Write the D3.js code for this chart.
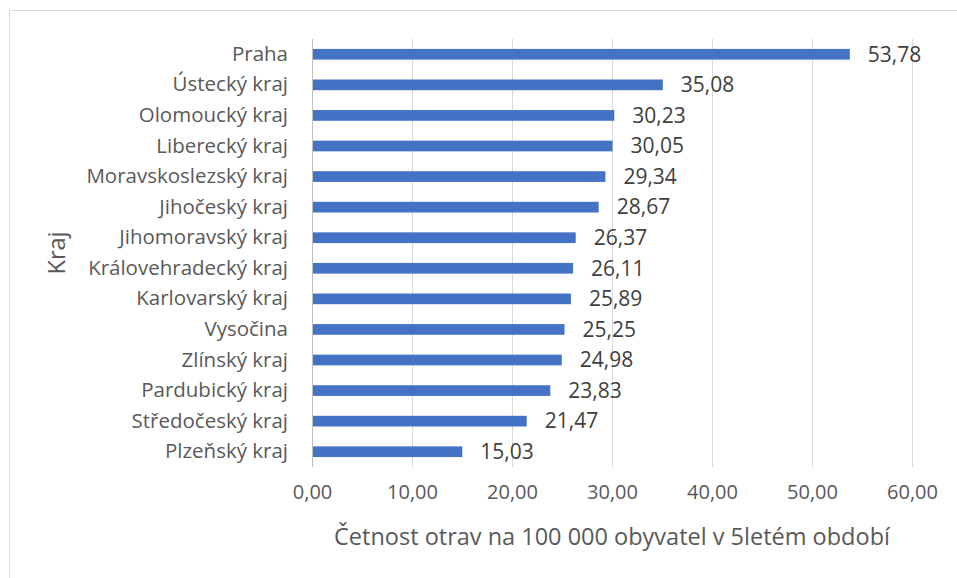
<!DOCTYPE html>
<html>
<head>
<meta charset="utf-8">
<script src="https://cdn.jsdelivr.net/npm/d3@7"></script>
<style>
  body { margin: 0; background: #fff; }
  svg { display: block; font-family: "Open Sans", sans-serif; }
</style>
</head>
<body>
<svg id="chart" width="957" height="578"></svg>
<script>
var regions = ["Praha", "Ústecký kraj", "Olomoucký kraj", "Liberecký kraj", "Moravskoslezský kraj",
  "Jihočeský kraj", "Jihomoravský kraj", "Královehradecký kraj", "Karlovarský kraj", "Vysočina",
  "Zlínský kraj", "Pardubický kraj", "Středočeský kraj", "Plzeňský kraj"];
var values = [53.78, 35.08, 30.23, 30.05, 29.34, 28.67, 26.37, 26.11, 25.89, 25.25, 24.98, 23.83, 21.47, 15.03];
var xTicks = [0, 10, 20, 30, 40, 50, 60];

var xTitle = "Četnost otrav na 100 000 obyvatel v 5letém období";
var yTitle = "Kraj";

var svg = d3.select("#chart");
var plotLeft = 312, plotRight = 912, plotTop = 39, plotBottom = 467;
var fontFam = "'Open Sans', sans-serif";

var comma = function(v, n){ return v.toFixed(n).replace(".", ","); };

// outer frame (only top and left visible in the original)
svg.append("path")
  .attr("d", "M9.5,578 V10.5 H957")
  .attr("fill", "none")
  .attr("stroke", "#d9d9d9")
  .attr("stroke-width", 1);

var xScale = d3.scaleLinear().domain([0, 60]).range([plotLeft, plotRight]);
var yScale = d3.scaleBand().domain(regions).range([plotTop, plotBottom]).paddingInner(0.65).paddingOuter(0.325);

// gridlines
svg.append("g")
  .selectAll("line")
  .data(xTicks.slice(1))
  .enter().append("line")
  .attr("x1", function(d){ return xScale(d) + 0.5; })
  .attr("x2", function(d){ return xScale(d) + 0.5; })
  .attr("y1", plotTop)
  .attr("y2", plotBottom)
  .attr("stroke", "#d9d9d9")
  .attr("stroke-width", 1);

// bars
svg.append("g")
  .selectAll("rect")
  .data(values)
  .enter().append("rect")
  .attr("x", xScale(0))
  .attr("y", function(d, i){ return yScale(regions[i]); })
  .attr("width", function(d){ return xScale(d) - xScale(0); })
  .attr("height", yScale.bandwidth())
  .attr("fill", "#4472c4");

// y axis line
svg.append("line")
  .attr("x1", plotLeft + 0.5).attr("x2", plotLeft + 0.5)
  .attr("y1", plotTop).attr("y2", plotBottom)
  .attr("stroke", "#bfbfbf");

// value labels
svg.append("g")
  .selectAll("text")
  .data(values)
  .enter().append("text")
  .attr("x", function(d){ return xScale(d) + 18; })
  .attr("y", function(d, i){ return yScale(regions[i]) + yScale.bandwidth()/2; })
  .attr("dy", "0.35em")
  .attr("font-size", 21)
  .attr("fill", "#404040")
  .text(function(d){ return comma(d, 2); });

// category labels
var yAxis = d3.axisLeft(yScale).tickSize(0).tickPadding(24);
var gy = svg.append("g")
  .attr("transform", "translate(" + plotLeft + ",0)")
  .call(yAxis);
gy.select(".domain").remove();
gy.selectAll("text")
  .attr("font-size", 20.5)
  .attr("font-family", fontFam)
  .attr("fill", "#595959");

// x axis tick labels
var xAxis = d3.axisBottom(xScale).tickValues(xTicks).tickSize(0).tickPadding(18)
  .tickFormat(function(d){ return comma(d, 2); });
var gx = svg.append("g")
  .attr("transform", "translate(0," + plotBottom + ")")
  .call(xAxis);
gx.select(".domain").remove();
gx.selectAll("text")
  .attr("font-size", 20)
  .attr("font-family", fontFam)
  .attr("fill", "#595959");

// axis titles
svg.append("text")
  .attr("x", (plotLeft + plotRight)/2)
  .attr("y", 545)
  .attr("text-anchor", "middle")
  .attr("font-size", 23.5)
  .attr("fill", "#595959")
  .text(xTitle);

svg.append("text")
  .attr("transform", "translate(65," + ((plotTop + plotBottom)/2) + ") rotate(-90)")
  .attr("text-anchor", "middle")
  .attr("font-size", 23.5)
  .attr("fill", "#595959")
  .text(yTitle);
</script>
</body>
</html>
